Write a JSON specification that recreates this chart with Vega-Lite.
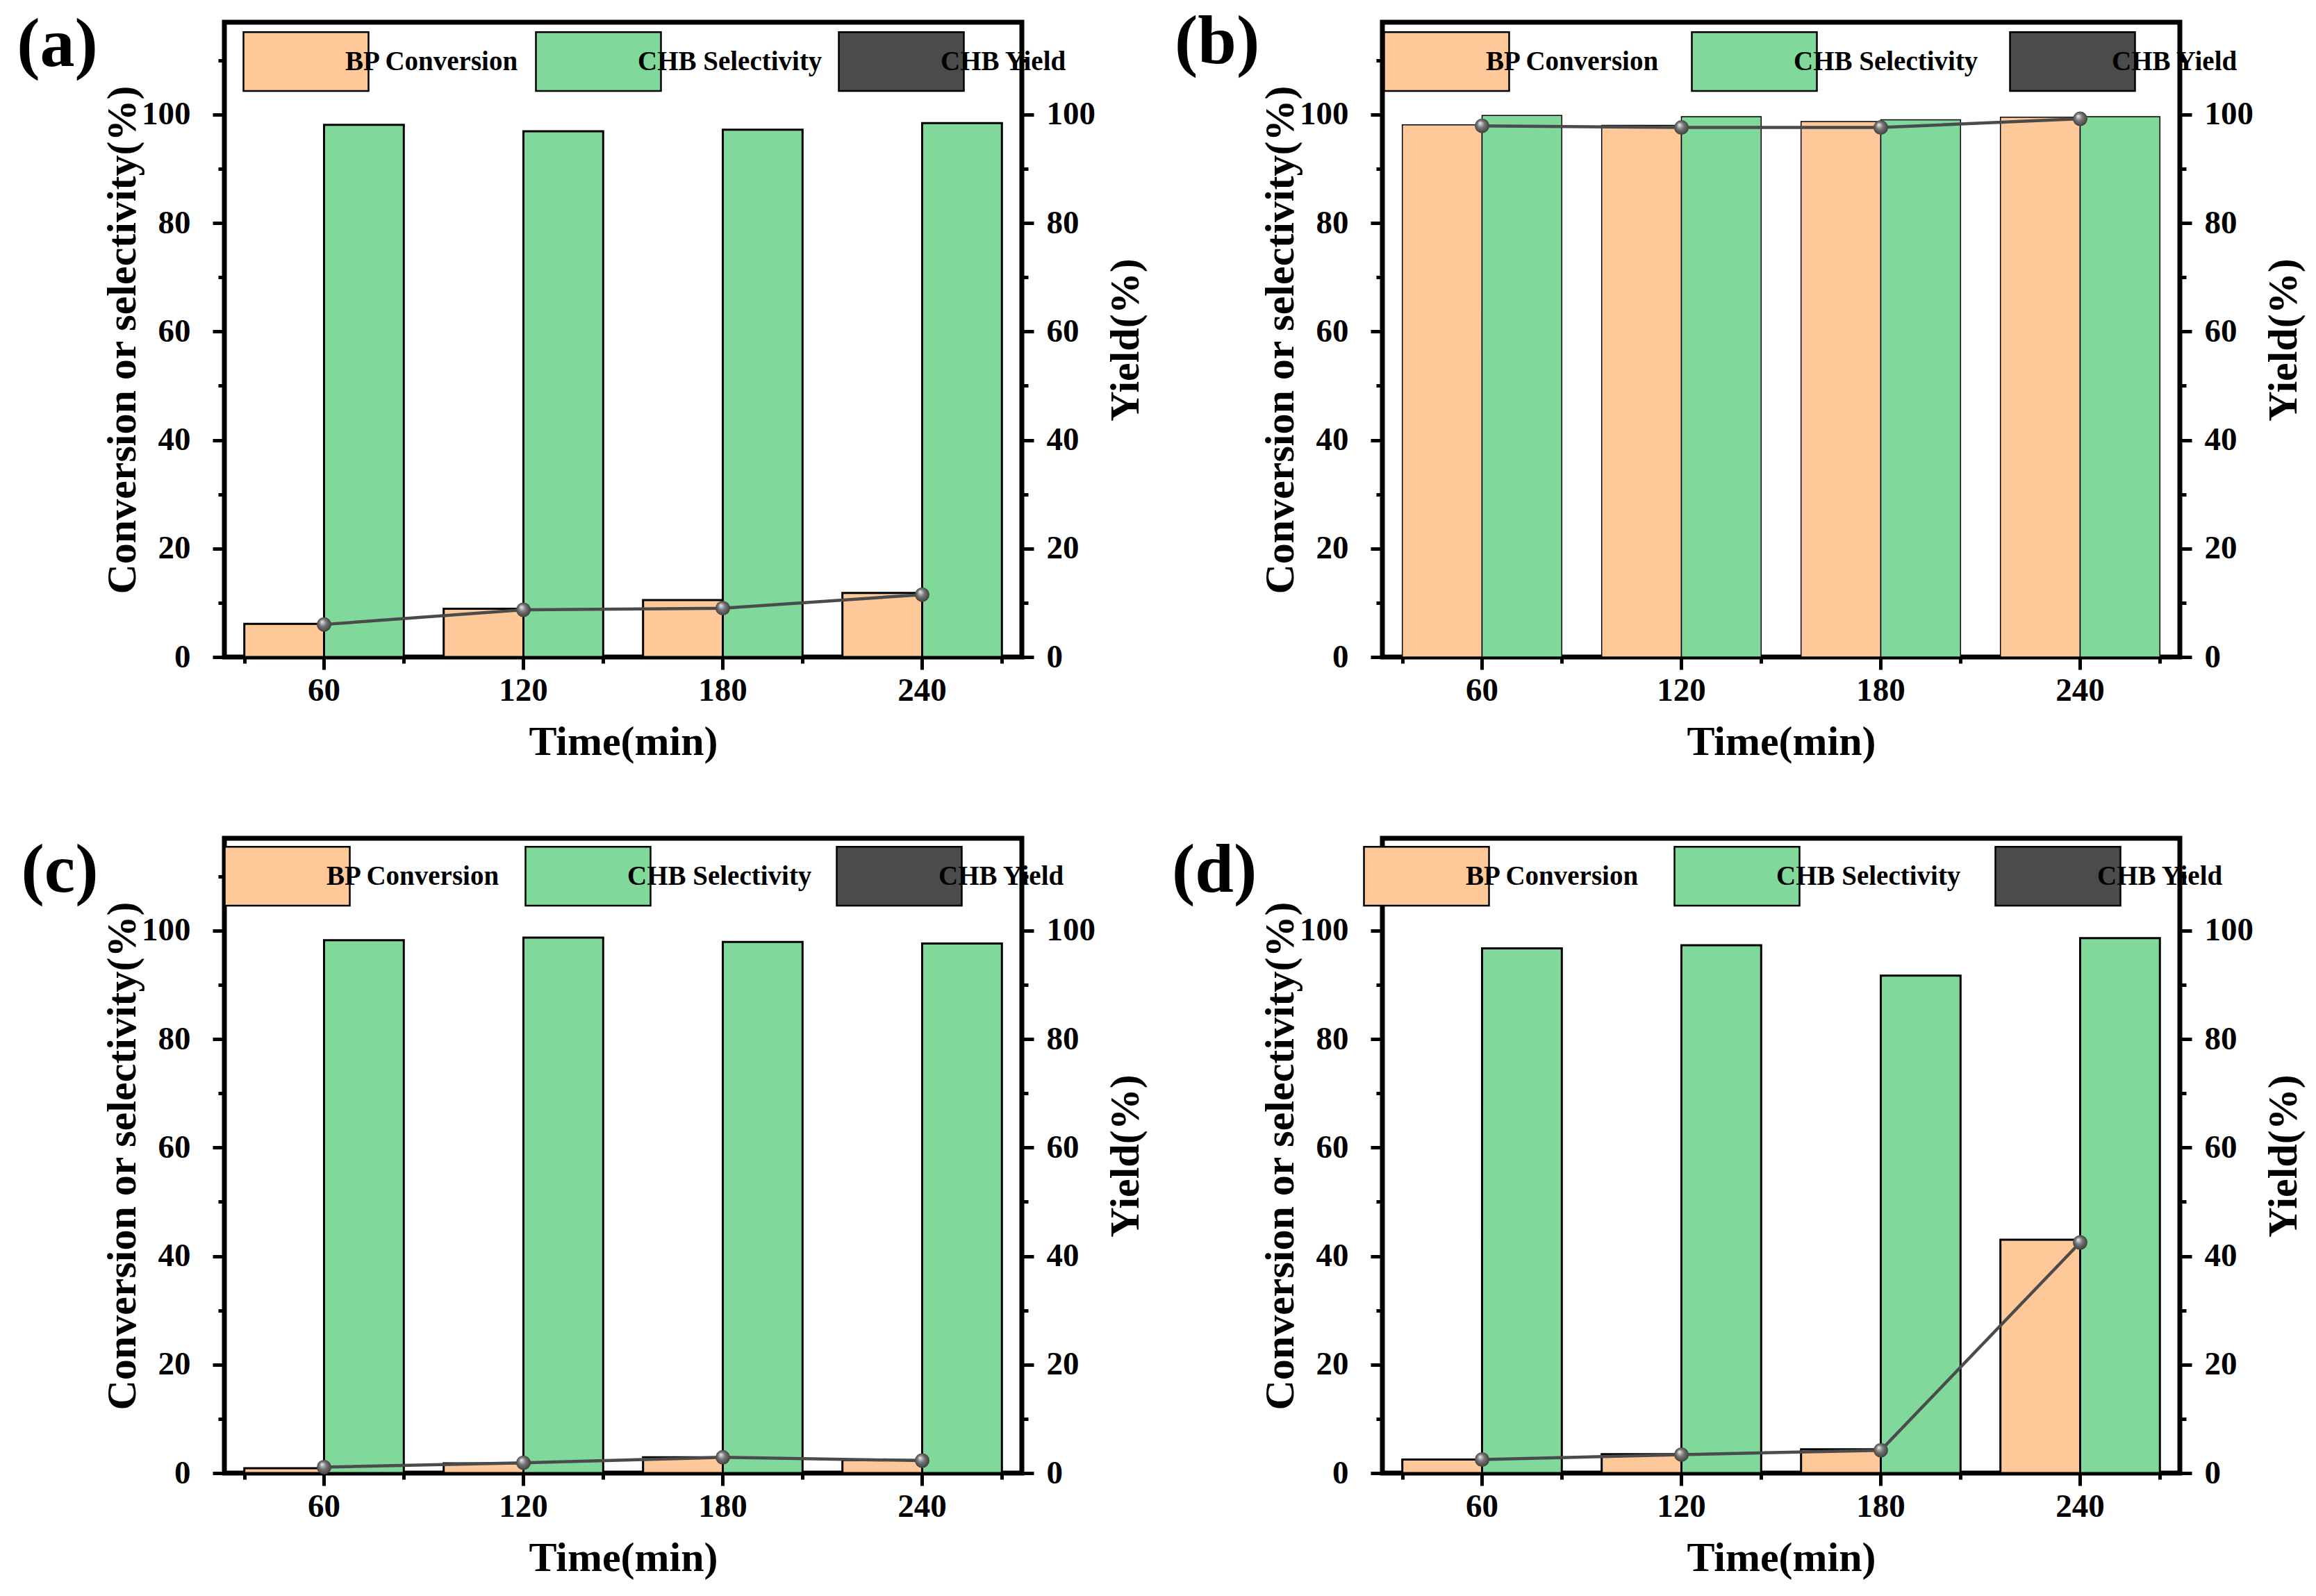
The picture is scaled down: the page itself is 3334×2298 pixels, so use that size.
{
  "$schema": "https://vega.github.io/schema/vega-lite/v6.json",
  "background": "white",
  "padding": {"left": 20, "top": 7, "right": 0, "bottom": 0},
  "datasets": {
    "rows": [
      {"panel": "a", "time": 60, "series": "BP Conversion", "value": 6.1},
      {"panel": "a", "time": 120, "series": "BP Conversion", "value": 8.9},
      {"panel": "a", "time": 180, "series": "BP Conversion", "value": 10.5},
      {"panel": "a", "time": 240, "series": "BP Conversion", "value": 11.8},
      {"panel": "a", "time": 60, "series": "CHB Selectivity", "value": 98.1},
      {"panel": "a", "time": 120, "series": "CHB Selectivity", "value": 96.9},
      {"panel": "a", "time": 180, "series": "CHB Selectivity", "value": 97.2},
      {"panel": "a", "time": 240, "series": "CHB Selectivity", "value": 98.4},
      {"panel": "a", "time": 60, "series": "CHB Yield", "value": 6.0},
      {"panel": "a", "time": 120, "series": "CHB Yield", "value": 8.7},
      {"panel": "a", "time": 180, "series": "CHB Yield", "value": 9.0},
      {"panel": "a", "time": 240, "series": "CHB Yield", "value": 11.5},
      {"panel": "b", "time": 60, "series": "BP Conversion", "value": 98.1},
      {"panel": "b", "time": 120, "series": "BP Conversion", "value": 98.0},
      {"panel": "b", "time": 180, "series": "BP Conversion", "value": 98.7},
      {"panel": "b", "time": 240, "series": "BP Conversion", "value": 99.5},
      {"panel": "b", "time": 60, "series": "CHB Selectivity", "value": 99.8},
      {"panel": "b", "time": 120, "series": "CHB Selectivity", "value": 99.6},
      {"panel": "b", "time": 180, "series": "CHB Selectivity", "value": 99.0},
      {"panel": "b", "time": 240, "series": "CHB Selectivity", "value": 99.6},
      {"panel": "b", "time": 60, "series": "CHB Yield", "value": 97.9},
      {"panel": "b", "time": 120, "series": "CHB Yield", "value": 97.6},
      {"panel": "b", "time": 180, "series": "CHB Yield", "value": 97.6},
      {"panel": "b", "time": 240, "series": "CHB Yield", "value": 99.2},
      {"panel": "c", "time": 60, "series": "BP Conversion", "value": 0.9},
      {"panel": "c", "time": 120, "series": "BP Conversion", "value": 1.8},
      {"panel": "c", "time": 180, "series": "BP Conversion", "value": 2.9},
      {"panel": "c", "time": 240, "series": "BP Conversion", "value": 2.4},
      {"panel": "c", "time": 60, "series": "CHB Selectivity", "value": 98.2},
      {"panel": "c", "time": 120, "series": "CHB Selectivity", "value": 98.7},
      {"panel": "c", "time": 180, "series": "CHB Selectivity", "value": 97.9},
      {"panel": "c", "time": 240, "series": "CHB Selectivity", "value": 97.6},
      {"panel": "c", "time": 60, "series": "CHB Yield", "value": 1.1},
      {"panel": "c", "time": 120, "series": "CHB Yield", "value": 1.9},
      {"panel": "c", "time": 180, "series": "CHB Yield", "value": 2.9},
      {"panel": "c", "time": 240, "series": "CHB Yield", "value": 2.3},
      {"panel": "d", "time": 60, "series": "BP Conversion", "value": 2.5},
      {"panel": "d", "time": 120, "series": "BP Conversion", "value": 3.5},
      {"panel": "d", "time": 180, "series": "BP Conversion", "value": 4.4},
      {"panel": "d", "time": 240, "series": "BP Conversion", "value": 43.0},
      {"panel": "d", "time": 60, "series": "CHB Selectivity", "value": 96.7},
      {"panel": "d", "time": 120, "series": "CHB Selectivity", "value": 97.3},
      {"panel": "d", "time": 180, "series": "CHB Selectivity", "value": 91.7},
      {"panel": "d", "time": 240, "series": "CHB Selectivity", "value": 98.6},
      {"panel": "d", "time": 60, "series": "CHB Yield", "value": 2.5},
      {"panel": "d", "time": 120, "series": "CHB Yield", "value": 3.4},
      {"panel": "d", "time": 180, "series": "CHB Yield", "value": 4.2},
      {"panel": "d", "time": 240, "series": "CHB Yield", "value": 42.5}
    ]
  },
  "data": {"name": "rows"},
  "columns": 2,
  "spacing": {"row": 98, "column": 29},
  "resolve": {"scale": {"color": "independent"}, "legend": {"color": "independent"}},
  "concat": [
    {
      "width": 1148,
      "height": 914,
      "title": {"text": "(a)", "dy": -16, "dx": 123},
      "transform": [{"filter": "datum.panel === 'a'"}],
      "layer": [
        {
          "transform": [{"filter": "datum.series !== 'CHB Yield'"}],
          "mark": {"type": "bar", "stroke": "black", "strokeWidth": 3},
          "encoding": {
            "x": {
              "field": "time", "type": "ordinal",
              "scale": {"paddingInner": 0.2, "paddingOuter": 0.1},
              "axis": {"orient": "bottom", "tickBand": "extent", "tickExtra": true, "labels": false, "title": null, "tickSize": 9}
            },
            "xOffset": {"field": "series", "type": "nominal", "scale": {"domain": ["BP Conversion", "CHB Selectivity"]}},
            "y": {
              "field": "value", "type": "quantitative",
              "scale": {"domain": [0, 117], "nice": false},
              "axis": {
                "orient": "left", "title": "Conversion or selectivity(%)",
                "values": [0, 10, 20, 30, 40, 50, 60, 70, 80, 90, 100, 110],
                "labelExpr": "datum.value % 20 === 0 ? datum.label : ''",
                "tickSize": {"condition": {"test": "datum.value % 20 === 0", "value": 17}, "value": 9},
                "labelPadding": 32, "titlePadding": -4
              }
            },
            "color": {
              "field": "series", "type": "nominal",
              "scale": {"domain": ["BP Conversion", "CHB Selectivity", "CHB Yield"], "range": ["#FEC898", "#80D89B", "#4b4b4b"]},
              "legend": {"legendX": 71, "legendY": 10, "columnPadding": 18}
            }
          }
        },
        {
          "transform": [{"filter": "datum.series === 'CHB Yield'"}],
          "encoding": {
            "x": {"field": "time", "type": "ordinal", "axis": {"orient": "bottom", "title": "Time(min)", "labelAngle": 0, "tickSize": 18, "labelPadding": 7, "titlePadding": 22}},
            "y": {
              "field": "value", "type": "quantitative",
              "scale": {"domain": [0, 117], "nice": false},
              "axis": {
                "orient": "right", "title": "Yield(%)", "titleAngle": -90, "titleBaseline": "top",
                "values": [0, 10, 20, 30, 40, 50, 60, 70, 80, 90, 100, 110],
                "labelExpr": "datum.value % 20 === 0 ? datum.label : ''",
                "tickSize": {"condition": {"test": "datum.value % 20 === 0", "value": 17}, "value": 9},
                "labelPadding": 18, "titlePadding": 15
              }
            }
          },
          "layer": [
            {"mark": {"type": "line", "strokeWidth": 4.5, "color": "#4b4b4b"}},
            {"mark": {"type": "point", "filled": true, "size": 440, "opacity": 1, "fill": {"gradient": "radial", "x1": 0.35, "y1": 0.3, "r1": 0, "x2": 0.5, "y2": 0.5, "r2": 0.55, "stops": [{"offset": 0, "color": "#eeeeee"}, {"offset": 0.45, "color": "#777777"}, {"offset": 1, "color": "#383838"}]}}}
          ]
        }
      ],
      "resolve": {"scale": {"y": "independent"}, "axis": {"x": "independent"}}
    },
    {
      "width": 1148,
      "height": 914,
      "title": {"text": "(b)", "dy": -20, "dx": 134},
      "transform": [{"filter": "datum.panel === 'b'"}],
      "layer": [
        {
          "transform": [{"filter": "datum.series !== 'CHB Yield'"}],
          "mark": {"type": "bar", "stroke": "black", "strokeWidth": 1.5},
          "encoding": {
            "x": {
              "field": "time", "type": "ordinal",
              "scale": {"paddingInner": 0.2, "paddingOuter": 0.1},
              "axis": {"orient": "bottom", "tickBand": "extent", "tickExtra": true, "labels": false, "title": null, "tickSize": 9}
            },
            "xOffset": {"field": "series", "type": "nominal", "scale": {"domain": ["BP Conversion", "CHB Selectivity"]}},
            "y": {
              "field": "value", "type": "quantitative",
              "scale": {"domain": [0, 117], "nice": false},
              "axis": {
                "orient": "left", "title": "Conversion or selectivity(%)",
                "values": [0, 10, 20, 30, 40, 50, 60, 70, 80, 90, 100, 110],
                "labelExpr": "datum.value % 20 === 0 ? datum.label : ''",
                "tickSize": {"condition": {"test": "datum.value % 20 === 0", "value": 17}, "value": 9},
                "labelPadding": 32, "titlePadding": -4
              }
            },
            "color": {
              "field": "series", "type": "nominal",
              "scale": {"domain": ["BP Conversion", "CHB Selectivity", "CHB Yield"], "range": ["#FEC898", "#80D89B", "#4b4b4b"]},
              "legend": {"legendX": 46, "legendY": 10, "columnPadding": 40}
            }
          }
        },
        {
          "transform": [{"filter": "datum.series === 'CHB Yield'"}],
          "encoding": {
            "x": {"field": "time", "type": "ordinal", "axis": {"orient": "bottom", "title": "Time(min)", "labelAngle": 0, "tickSize": 18, "labelPadding": 7, "titlePadding": 22}},
            "y": {
              "field": "value", "type": "quantitative",
              "scale": {"domain": [0, 117], "nice": false},
              "axis": {
                "orient": "right", "title": "Yield(%)", "titleAngle": -90, "titleBaseline": "top",
                "values": [0, 10, 20, 30, 40, 50, 60, 70, 80, 90, 100, 110],
                "labelExpr": "datum.value % 20 === 0 ? datum.label : ''",
                "tickSize": {"condition": {"test": "datum.value % 20 === 0", "value": 17}, "value": 9},
                "labelPadding": 18, "titlePadding": 15
              }
            }
          },
          "layer": [
            {"mark": {"type": "line", "strokeWidth": 4.5, "color": "#4b4b4b"}},
            {"mark": {"type": "point", "filled": true, "size": 440, "opacity": 1, "fill": {"gradient": "radial", "x1": 0.35, "y1": 0.3, "r1": 0, "x2": 0.5, "y2": 0.5, "r2": 0.55, "stops": [{"offset": 0, "color": "#eeeeee"}, {"offset": 0.45, "color": "#777777"}, {"offset": 1, "color": "#383838"}]}}}
          ]
        }
      ],
      "resolve": {"scale": {"y": "independent"}, "axis": {"x": "independent"}}
    },
    {
      "width": 1148,
      "height": 914,
      "title": {"text": "(c)", "dy": -2, "dx": 118},
      "transform": [{"filter": "datum.panel === 'c'"}],
      "layer": [
        {
          "transform": [{"filter": "datum.series !== 'CHB Yield'"}],
          "mark": {"type": "bar", "stroke": "black", "strokeWidth": 3},
          "encoding": {
            "x": {
              "field": "time", "type": "ordinal",
              "scale": {"paddingInner": 0.2, "paddingOuter": 0.1},
              "axis": {"orient": "bottom", "tickBand": "extent", "tickExtra": true, "labels": false, "title": null, "tickSize": 9}
            },
            "xOffset": {"field": "series", "type": "nominal", "scale": {"domain": ["BP Conversion", "CHB Selectivity"]}},
            "y": {
              "field": "value", "type": "quantitative",
              "scale": {"domain": [0, 117], "nice": false},
              "axis": {
                "orient": "left", "title": "Conversion or selectivity(%)",
                "values": [0, 10, 20, 30, 40, 50, 60, 70, 80, 90, 100, 110],
                "labelExpr": "datum.value % 20 === 0 ? datum.label : ''",
                "tickSize": {"condition": {"test": "datum.value % 20 === 0", "value": 17}, "value": 9},
                "labelPadding": 32, "titlePadding": -4
              }
            },
            "color": {
              "field": "series", "type": "nominal",
              "scale": {"domain": ["BP Conversion", "CHB Selectivity", "CHB Yield"], "range": ["#FEC898", "#80D89B", "#4b4b4b"]},
              "legend": {"legendX": 44, "legendY": 8, "columnPadding": 30}
            }
          }
        },
        {
          "transform": [{"filter": "datum.series === 'CHB Yield'"}],
          "encoding": {
            "x": {"field": "time", "type": "ordinal", "axis": {"orient": "bottom", "title": "Time(min)", "labelAngle": 0, "tickSize": 18, "labelPadding": 7, "titlePadding": 22}},
            "y": {
              "field": "value", "type": "quantitative",
              "scale": {"domain": [0, 117], "nice": false},
              "axis": {
                "orient": "right", "title": "Yield(%)", "titleAngle": -90, "titleBaseline": "top",
                "values": [0, 10, 20, 30, 40, 50, 60, 70, 80, 90, 100, 110],
                "labelExpr": "datum.value % 20 === 0 ? datum.label : ''",
                "tickSize": {"condition": {"test": "datum.value % 20 === 0", "value": 17}, "value": 9},
                "labelPadding": 18, "titlePadding": 15
              }
            }
          },
          "layer": [
            {"mark": {"type": "line", "strokeWidth": 4.5, "color": "#4b4b4b"}},
            {"mark": {"type": "point", "filled": true, "size": 440, "opacity": 1, "fill": {"gradient": "radial", "x1": 0.35, "y1": 0.3, "r1": 0, "x2": 0.5, "y2": 0.5, "r2": 0.55, "stops": [{"offset": 0, "color": "#eeeeee"}, {"offset": 0.45, "color": "#777777"}, {"offset": 1, "color": "#383838"}]}}}
          ]
        }
      ],
      "resolve": {"scale": {"y": "independent"}, "axis": {"x": "independent"}}
    },
    {
      "width": 1148,
      "height": 914,
      "title": {"text": "(d)", "dy": -2, "dx": 130},
      "transform": [{"filter": "datum.panel === 'd'"}],
      "layer": [
        {
          "transform": [{"filter": "datum.series !== 'CHB Yield'"}],
          "mark": {"type": "bar", "stroke": "black", "strokeWidth": 3},
          "encoding": {
            "x": {
              "field": "time", "type": "ordinal",
              "scale": {"paddingInner": 0.2, "paddingOuter": 0.1},
              "axis": {"orient": "bottom", "tickBand": "extent", "tickExtra": true, "labels": false, "title": null, "tickSize": 9}
            },
            "xOffset": {"field": "series", "type": "nominal", "scale": {"domain": ["BP Conversion", "CHB Selectivity"]}},
            "y": {
              "field": "value", "type": "quantitative",
              "scale": {"domain": [0, 117], "nice": false},
              "axis": {
                "orient": "left", "title": "Conversion or selectivity(%)",
                "values": [0, 10, 20, 30, 40, 50, 60, 70, 80, 90, 100, 110],
                "labelExpr": "datum.value % 20 === 0 ? datum.label : ''",
                "tickSize": {"condition": {"test": "datum.value % 20 === 0", "value": 17}, "value": 9},
                "labelPadding": 32, "titlePadding": -4
              }
            },
            "color": {
              "field": "series", "type": "nominal",
              "scale": {"domain": ["BP Conversion", "CHB Selectivity", "CHB Yield"], "range": ["#FEC898", "#80D89B", "#4b4b4b"]},
              "legend": {"legendX": 17, "legendY": 8, "columnPadding": 44}
            }
          }
        },
        {
          "transform": [{"filter": "datum.series === 'CHB Yield'"}],
          "encoding": {
            "x": {"field": "time", "type": "ordinal", "axis": {"orient": "bottom", "title": "Time(min)", "labelAngle": 0, "tickSize": 18, "labelPadding": 7, "titlePadding": 22}},
            "y": {
              "field": "value", "type": "quantitative",
              "scale": {"domain": [0, 117], "nice": false},
              "axis": {
                "orient": "right", "title": "Yield(%)", "titleAngle": -90, "titleBaseline": "top",
                "values": [0, 10, 20, 30, 40, 50, 60, 70, 80, 90, 100, 110],
                "labelExpr": "datum.value % 20 === 0 ? datum.label : ''",
                "tickSize": {"condition": {"test": "datum.value % 20 === 0", "value": 17}, "value": 9},
                "labelPadding": 18, "titlePadding": 15
              }
            }
          },
          "layer": [
            {"mark": {"type": "line", "strokeWidth": 4.5, "color": "#4b4b4b"}},
            {"mark": {"type": "point", "filled": true, "size": 440, "opacity": 1, "fill": {"gradient": "radial", "x1": 0.35, "y1": 0.3, "r1": 0, "x2": 0.5, "y2": 0.5, "r2": 0.55, "stops": [{"offset": 0, "color": "#eeeeee"}, {"offset": 0.45, "color": "#777777"}, {"offset": 1, "color": "#383838"}]}}}
          ]
        }
      ],
      "resolve": {"scale": {"y": "independent"}, "axis": {"x": "independent"}}
    }
  ],
  "config": {
    "font": "Liberation Serif",
    "view": {"stroke": "black", "strokeWidth": 7},
    "axis": {
      "domain": false, "grid": false,
      "labelFont": "Liberation Serif", "labelFontWeight": "bold", "labelFontSize": 47, "labelColor": "black",
      "titleFont": "Liberation Serif", "titleFontWeight": "bold", "titleFontSize": 60, "titleColor": "black",
      "tickColor": "black", "tickWidth": 5
    },
    "legend": {
      "orient": "none", "direction": "horizontal", "columns": 3, "title": null, "padding": 0,
      "labelFont": "Liberation Serif", "labelFontWeight": "bold", "labelFontSize": 39, "labelColor": "black", "labelLimit": 0,
      "labelOffset": 10, "symbolSize": 8100, "symbolType": "M-2,-0.94H2V0.94H-2Z", "symbolStrokeWidth": 2.5, "symbolOpacity": 1
    },
    "title": {
      "orient": "left", "anchor": "end", "angle": 0, "align": "left", "baseline": "top",
      "font": "Liberation Serif", "fontWeight": "bold", "fontSize": 100, "color": "black", "offset": 12, "frame": "group"
    }
  }
}
